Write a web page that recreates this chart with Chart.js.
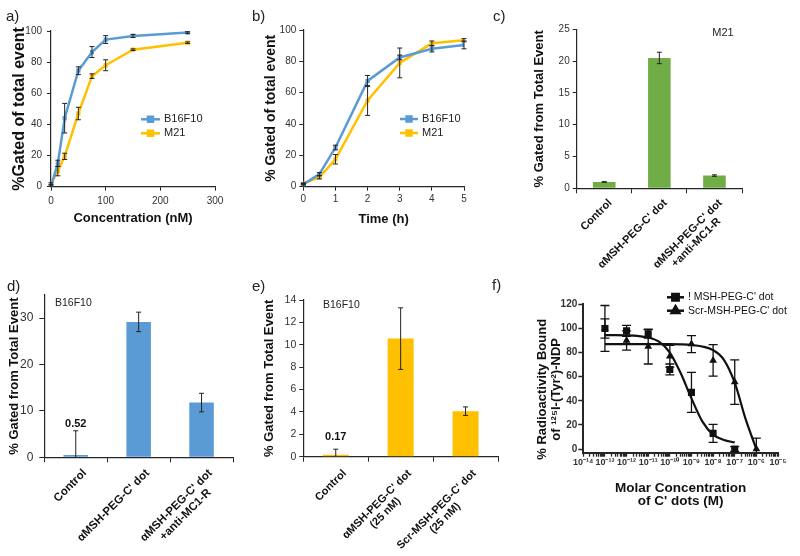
<!DOCTYPE html>
<html><head><meta charset="utf-8">
<script src="https://cdn.jsdelivr.net/npm/chart.js@4.4.1/dist/chart.umd.min.js"></script>
<style>
html,body{margin:0;padding:0;background:#fff}
#wrap{position:relative;width:800px;height:556px;overflow:hidden;font-family:'Liberation Sans',Arial,sans-serif}
canvas{position:absolute}
.pl{position:absolute;font-size:15px;line-height:17px;color:#222}
</style></head><body><div id="wrap">
<canvas id="cA" width="255" height="240" style="left:0;top:0"></canvas>
<canvas id="cB" width="245" height="240" style="left:255px;top:0"></canvas>
<canvas id="cC" width="285" height="270" style="left:515px;top:0"></canvas>
<canvas id="cD" width="255" height="286" style="left:0;top:270px"></canvas>
<canvas id="cE" width="245" height="286" style="left:255px;top:270px"></canvas>
<canvas id="cF" width="300" height="286" style="left:500px;top:270px"></canvas>
<div class="pl" style="left:6px;top:7px">a)</div>
<div class="pl" style="left:252px;top:7px">b)</div>
<div class="pl" style="left:493px;top:7px">c)</div>
<div class="pl" style="left:7px;top:277px">d)</div>
<div class="pl" style="left:252px;top:277px">e)</div>
<div class="pl" style="left:492px;top:276px">f)</div>
</div>
<script>
// ================= DATA =================
const seriesNames = ['B16F10', 'M21'];
// panel a : uptake vs concentration
const concA   = [0, 12.5, 25, 50, 75, 100, 150, 250];
const b16A    = [0.5, 15, 44, 74.5, 86.5, 94.5, 96.8, 99];
const b16AErr = [0.5, 2, 9.5, 2.5, 3.5, 2.5, 1, 0.5];
const m21A    = [2, 10, 19.5, 47, 71, 78, 88, 92.5];
const m21AErr = [0.5, 3, 2, 4, 1.5, 3.5, 0.5, 0.5];
const xTicksA = [0, 100, 200, 300];
const yTicksA = [0, 20, 40, 60, 80, 100];
// panel b : uptake vs time
const timeB   = [0, 0.5, 1, 2, 3, 4, 5];
const b16B    = [1.5, 8, 25, 67.5, 82.5, 88, 90.5];
const b16BErr = [0.5, 1, 1.5, 3.5, 1.5, 2, 2.5];
const m21B    = [2, 6, 17.5, 55, 79, 91.5, 93.5];
const m21BErr = [0.5, 1, 3, 9.5, 9.5, 1.5, 1];
const xTicksB = [0, 1, 2, 3, 4, 5];
const yTicksB = [0, 20, 40, 60, 80, 100];
// panel c : M21
const catC    = ['Control', "\u03b1MSH-PEG-C' dot", ["\u03b1MSH-PEG-C' dot", '+anti-MC1-R']];
const valC    = [1.0, 20.5, 2.0];
const errC    = [0.05, 0.9, 0.12];
const yTicksC = [0, 5, 10, 15, 20, 25];
// panel d : B16F10
const catD    = ['Control', "\u03b1MSH-PEG-C' dot", ["\u03b1MSH-PEG-C' dot", '+anti-MC1-R']];
const valD    = [0.52, 29.2, 11.8];
const errD    = [5.2, 2.1, 2.0];
const yTicksD = [0, 10, 20, 30];
// panel e : B16F10
const catE    = ['Control', ["\u03b1MSH-PEG-C' dot", '(25 nM)'], ["Scr-MSH-PEG-C' dot", '(25 nM)']];
const valE    = [0.17, 10.55, 4.07];
const errE    = [0.5, 2.75, 0.38];
const yTicksE = [0, 2, 4, 6, 8, 10, 12, 14];
// panel f : competitive binding (x = log10 molar concentration)
const namesF   = ["! MSH-PEG-C' dot", "Scr-MSH-PEG-C' dot"];
const logConcF = [-13, -12, -11, -10, -9, -8, -7, -6];
const sqF      = [100, 98, 95.5, 66, 47, 13, 0, null];
const sqErrF   = [19, 4.5, 3.5, 4.5, 16.5, 7.5, 2, null];
const triF     = [100, 90, 85, 77, 87, 73.5, 55.5, 0];
const triErrF  = [8, 8, 14.5, 9, 7, 13, 18.5, 9];
const fitXF    = [-13, -12.5, -12, -11.5, -11, -10.5, -10, -9.5, -9, -8.5, -8, -7.5, -7, -6.5, -6];
const sqFitF   = [94.5, 94.5, 94.3, 93.8, 92.5, 89, 80, 63, 42, 23, 12, 7.5, 5.5, null, null];
const triFitF  = [87, 87, 87, 87, 87, 87, 87, 86.8, 86.3, 85, 82, 74, 55, 25, 0];
const yTicksF  = [0, 20, 40, 60, 80, 100, 120];
const xDecadesF = [-14, -13, -12, -11, -10, -9, -8, -7, -6, -5];

// ================= STYLE / HELPERS =================
const FF = "'Liberation Sans', Arial, sans-serif";
Chart.defaults.font.family = FF;
Chart.defaults.color = '#333';
const C_BLUE = '#5B9BD5', C_ORANGE = '#FFC000', C_GREEN = '#70AD47';
const AX = '#262626', TXT = '#333';
const xy = (xs, ys) => xs.map((x, i) => ({x: x, y: ys[i]}));

const errPlugin = {
  id: 'errbars',
  afterDatasetsDraw(chart, args, o) {
    const ctx = chart.ctx, ca = chart.chartArea;
    chart.data.datasets.forEach((ds, i) => {
      if (!ds.errors) return;
      const meta = chart.getDatasetMeta(i);
      const ys = chart.scales[meta.yAxisID];
      ctx.save();
      ctx.beginPath(); ctx.rect(ca.left - 20, ca.top - 30, ca.right - ca.left + 40, ca.bottom - ca.top + 30); ctx.clip();
      ctx.strokeStyle = o.color || '#000'; ctx.lineWidth = o.width || 1;
      meta.data.forEach((el, j) => {
        const v = ds.data[j];
        const val = (v !== null && typeof v === 'object') ? v.y : v;
        const e = ds.errors[j];
        if (val == null || e == null) return;
        const x = el.x, cw = o.cap || 3;
        const yt = ys.getPixelForValue(val + e), yb = ys.getPixelForValue(val - e);
        ctx.beginPath();
        ctx.moveTo(x, yt); ctx.lineTo(x, yb);
        ctx.moveTo(x - cw, yt); ctx.lineTo(x + cw, yt);
        ctx.moveTo(x - cw, yb); ctx.lineTo(x + cw, yb);
        ctx.stroke();
      });
      ctx.restore();
    });
  }
};
const legPlugin = {
  id: 'legx',
  afterDraw(chart, args, o) {
    if (!o || !o.items) return;
    const ctx = chart.ctx;
    o.items.forEach((di, k) => {
      const ds = chart.data.datasets[di];
      const y = o.y0 + k * o.dy;
      ctx.save();
      ctx.strokeStyle = o.lineColor || ds.borderColor; ctx.lineWidth = o.lw;
      ctx.beginPath(); ctx.moveTo(o.x0, y); ctx.lineTo(o.x1, y); ctx.stroke();
      ctx.fillStyle = ds.pointBackgroundColor || ds.backgroundColor;
      ctx.strokeStyle = ds.pointBackgroundColor || ds.backgroundColor;
      Chart.helpers.drawPoint(ctx, {pointStyle: ds.pointStyle, radius: o.pr, borderWidth: 1, rotation: 0}, (o.x0 + o.x1) / 2, y);
      ctx.fillStyle = o.color || '#222'; ctx.font = o.font;
      ctx.textAlign = 'left'; ctx.textBaseline = 'middle';
      ctx.fillText(ds.label, o.tx, y);
      ctx.restore();
    });
  }
};
const notesPlugin = {
  id: 'notes',
  afterDraw(chart, args, o) {
    if (!o || !o.items) return;
    const ctx = chart.ctx;
    o.items.forEach(it => {
      ctx.save();
      ctx.font = it.font; ctx.fillStyle = it.color || '#222';
      ctx.textAlign = it.align || 'left'; ctx.textBaseline = 'middle';
      ctx.fillText(it.text, it.x, it.y);
      ctx.restore();
    });
  }
};
const valLabelPlugin = {
  id: 'vallab',
  afterDraw(chart, args, o) {
    if (!o || o.index == null) return;
    const ctx = chart.ctx, ds = chart.data.datasets[0];
    const meta = chart.getDatasetMeta(0), ys = chart.scales.y;
    const v = ds.data[o.index], e = ds.errors ? ds.errors[o.index] : 0;
    const x = meta.data[o.index].x, y = ys.getPixelForValue(v + e) + o.dy;
    ctx.save(); ctx.font = o.font; ctx.fillStyle = '#111';
    ctx.textAlign = 'center'; ctx.textBaseline = 'middle';
    ctx.fillText(String(v), x, y); ctx.restore();
  }
};
const catLabPlugin = {
  id: 'catlab',
  afterDraw(chart, args, o) {
    if (!o || !o.font) return;
    const ctx = chart.ctx, xs = chart.scales.x;
    chart.data.labels.forEach((lab, i) => {
      const lines = Array.isArray(lab) ? lab : [lab];
      const x = xs.getPixelForValue(i), y = xs.top;
      ctx.save();
      ctx.font = o.font; ctx.fillStyle = '#111';
      ctx.translate(x + o.dx, y + o.dy); ctx.rotate(-Math.PI / 4);
      const W = Math.max(...lines.map(l => ctx.measureText(l).width));
      ctx.textAlign = 'center'; ctx.textBaseline = 'middle';
      lines.forEach((l, k) => ctx.fillText(l, -W / 2, k * o.lh));
      ctx.restore();
    });
  }
};
const PLUGS = [errPlugin, legPlugin, notesPlugin, valLabelPlugin, catLabPlugin];

function yAx(o) {
  return {
    type: 'linear', position: 'left', min: o.min, max: o.max,
    afterBuildTicks: s => { s.ticks = o.ticks.map(v => ({value: v})); },
    afterFit: s => { s.width = o.width; },
    ticks: {font: {size: o.ts, weight: o.tw || 'normal'}, padding: o.tp, color: TXT, autoSkip: false},
    grid: {drawOnChartArea: false, drawTicks: true, tickLength: o.tl, tickColor: AX, tickWidth: o.tkw || 1, color: AX},
    border: {color: AX, width: o.bw || 1.2},
    title: {display: true, text: o.title, color: '#111', font: {size: o.fs, weight: 'bold', lineHeight: o.lh || 1.2}, padding: {top: o.pt, bottom: 0}}
  };
}
function xLin(o) {
  const t = {font: {size: o.ts, weight: o.tw || 'normal'}, padding: o.tp, color: TXT, autoSkip: false, maxRotation: 0, minRotation: 0};
  if (o.cb) t.callback = o.cb;
  return {
    type: 'linear', position: 'bottom', min: o.min, max: o.max,
    afterBuildTicks: s => { s.ticks = o.ticks.map(v => ({value: v})); },
    afterFit: s => { s.height = o.height; },
    ticks: t,
    grid: {drawOnChartArea: false, drawTicks: true, tickLength: o.tl, tickColor: AX, tickWidth: o.tkw || 1, color: AX},
    border: {color: AX, width: o.bw || 1.2},
    title: {display: true, text: o.title, color: '#111', font: {size: o.fs, weight: 'bold', lineHeight: o.lh || 1.2}, padding: {top: 0, bottom: o.pb}}
  };
}
function xCat(height) {
  return {
    type: 'category', position: 'bottom', offset: true,
    afterFit: s => { s.height = height; },
    ticks: {display: false},
    grid: {offset: true, drawOnChartArea: false, drawTicks: true, tickLength: 5, tickColor: AX, color: AX},
    border: {color: AX, width: 1.2}
  };
}
const base = (pad, plugins, scales) => ({
  responsive: false, animation: false, devicePixelRatio: 1,
  layout: {padding: pad},
  plugins: Object.assign({legend: {display: false}, tooltip: {enabled: false}}, plugins),
  scales: scales
});
function lineDs(label, xs, ys, errs, color) {
  return {label: label, data: xy(xs, ys), errors: errs, borderColor: color, backgroundColor: color,
    pointBackgroundColor: color, borderWidth: 2.5, pointStyle: 'rect', pointRadius: 3, pointBorderWidth: 0, tension: 0};
}

// ---------- a ----------
new Chart(document.getElementById('cA'), {
  type: 'line',
  data: {datasets: [lineDs(seriesNames[0], concA, b16A, b16AErr, C_BLUE), lineDs(seriesNames[1], concA, m21A, m21AErr, C_ORANGE)]},
  options: base({left: 0, top: 31, right: 40, bottom: 8.3}, {
      errbars: {cap: 2.5, width: 1, color: '#222'},
      legx: {items: [0, 1], x0: 141, x1: 160, tx: 164, y0: 119.3, dy: 14, lw: 2.5, pr: 3.5, font: '11px ' + FF}
    }, {
      x: xLin({min: 0, max: 300, ticks: xTicksA, height: 45, ts: 10, tp: 5, tl: 4, title: 'Concentration (nM)', fs: 13, pb: 5}),
      y: yAx({min: 0, max: 100, ticks: yTicksA, width: 51, ts: 10, tp: 5, tl: 4, title: '%Gated of total event', fs: 16, pt: 9.5})
    }),
  plugins: PLUGS
});
// ---------- b ----------
new Chart(document.getElementById('cB'), {
  type: 'line',
  data: {datasets: [lineDs(seriesNames[0], timeB, b16B, b16BErr, C_BLUE), lineDs(seriesNames[1], timeB, m21B, m21BErr, C_ORANGE)]},
  options: base({left: 0, top: 30, right: 36, bottom: 8.3}, {
      errbars: {cap: 2.5, width: 1, color: '#222'},
      legx: {items: [0, 1], x0: 145, x1: 163, tx: 167, y0: 119, dy: 14, lw: 2.5, pr: 3.5, font: '11px ' + FF}
    }, {
      x: xLin({min: 0, max: 5, ticks: xTicksB, height: 45, ts: 10, tp: 3, tl: 4, title: 'Time (h)', fs: 13, pb: 4}),
      y: yAx({min: 0, max: 100, ticks: yTicksB, width: 48.3, ts: 10, tp: 3, tl: 4, title: '% Gated of total event', fs: 14, pt: 8})
    }),
  plugins: PLUGS
});
// ---------- c ----------
new Chart(document.getElementById('cC'), {
  type: 'bar',
  data: {labels: catC, datasets: [{data: valC, errors: errC, backgroundColor: C_GREEN, barPercentage: 0.41, categoryPercentage: 1}]},
  options: base({left: 0, top: 29.3, right: 58, bottom: 0}, {
      errbars: {cap: 2.5, width: 1, color: '#222'},
      catlab: {dx: 6, dy: 13, lh: 12, font: 'bold 11px ' + FF},
      notes: {items: [{text: 'M21', x: 208, y: 33, align: 'center', font: '11px ' + FF}]}
    }, {
      x: xCat(81.7),
      y: yAx({min: 0, max: 25, ticks: yTicksC, width: 61.7, ts: 10, tp: 3, tl: 4, title: '% Gated from Total Event', fs: 13, pt: 17})
    }),
  plugins: PLUGS
});
// ---------- d ----------
new Chart(document.getElementById('cD'), {
  type: 'bar',
  data: {labels: catD, datasets: [{data: valD, errors: errD, backgroundColor: C_BLUE, barPercentage: 0.39, categoryPercentage: 1}]},
  options: base({left: 0, top: 25, right: 22, bottom: 0}, {
      errbars: {cap: 2.5, width: 1, color: '#222'},
      catlab: {dx: 9, dy: 14, lh: 13, font: 'bold 11.5px ' + FF},
      notes: {items: [{text: 'B16F10', x: 55, y: 33, font: '10.5px ' + FF}]},
      vallab: {index: 0, dy: -7, font: 'bold 11px ' + FF}
    }, {
      x: xCat(98.7),
      y: yAx({min: 0, max: 35, ticks: yTicksD, width: 44.3, ts: 12, tp: 6, tl: 5, title: '% Gated from Total Event', fs: 13, pt: 7})
    }),
  plugins: PLUGS
});
// ---------- e ----------
new Chart(document.getElementById('cE'), {
  type: 'bar',
  data: {labels: catE, datasets: [{data: valE, errors: errE, backgroundColor: C_ORANGE, barPercentage: 0.4, categoryPercentage: 1}]},
  options: base({left: 0, top: 30, right: 2, bottom: 0}, {
      errbars: {cap: 2.5, width: 1, color: '#222'},
      catlab: {dx: 9, dy: 15, lh: 12, font: 'bold 11px ' + FF},
      notes: {items: [{text: 'B16F10', x: 68, y: 35, font: '10.5px ' + FF}]},
      vallab: {index: 0, dy: -12, font: 'bold 11px ' + FF}
    }, {
      x: xCat(99.3),
      y: yAx({min: 0, max: 14, ticks: yTicksE, width: 48.3, ts: 10.5, tp: 3, tl: 4, title: '% Gated from Total Event', fs: 13, pt: 7})
    }),
  plugins: PLUGS
});
// ---------- f ----------
const SUP = {'0':'\u2070','1':'\u00b9','2':'\u00b2','3':'\u00b3','4':'\u2074','5':'\u2075','6':'\u2076','7':'\u2077','8':'\u2078','9':'\u2079','-':'\u207b'};
const supStr = v => String(v).split('').map(c => SUP[c]).join('');
const xTickValsF = [];
xDecadesF.forEach((d, i) => {
  xTickValsF.push(d);
  if (i < xDecadesF.length - 1) for (let k = 2; k <= 9; k++) xTickValsF.push(d + Math.log10(k));
});
new Chart(document.getElementById('cF'), {
  type: 'line',
  data: {datasets: [
    {label: namesF[0], data: xy(logConcF, sqF), errors: sqErrF, showLine: false, pointStyle: 'rect', pointRadius: 5,
     backgroundColor: '#111', pointBackgroundColor: '#111', borderColor: '#111', pointBorderWidth: 0},
    {label: namesF[1], data: xy(logConcF, triF), errors: triErrF, showLine: false, pointStyle: 'triangle', pointRadius: 4.5,
     backgroundColor: '#111', pointBackgroundColor: '#111', borderColor: '#111', pointBorderWidth: 0},
    {label: 'fit1', data: xy(fitXF, sqFitF), borderColor: '#111', borderWidth: 2.2, pointRadius: 0, cubicInterpolationMode: 'monotone', spanGaps: false},
    {label: 'fit2', data: xy(fitXF, triFitF), borderColor: '#111', borderWidth: 2.2, pointRadius: 0, cubicInterpolationMode: 'monotone', spanGaps: false}
  ]},
  options: base({left: 0, top: 34.3, right: 22, bottom: 0}, {
      errbars: {cap: 4.5, width: 1.3, color: '#111'},
      legx: {items: [0, 1], x0: 167, x1: 184, tx: 188, y0: 27.3, dy: 13.4, lw: 2.5, pr: 4.5, lineColor: '#111', font: '10.5px ' + FF, color: '#111'}
    }, {
      x: xLin({min: -14, max: -5, ticks: xTickValsF, height: 103.3, ts: 9, tw: 'bold', tp: 0.6, tl: 4, bw: 2, tkw: 1.3,
               cb: v => Number.isInteger(v) ? '10' + supStr(v) : '',
               title: ['Molar Concentration', "of C' dots (M)"], fs: 13.5, lh: 1.0, pb: 47.6}),
      y: yAx({min: -3, max: 120, ticks: yTicksF, width: 83.3, ts: 10, tw: 'bold', tp: 1, tl: 5, bw: 2, tkw: 1.5,
              title: ['% Radioactivity Bound      ', 'of \u00b9\u00b2\u2075I-(Tyr\u00b2)-NDP      '], fs: 13, lh: 1.05, pt: 36})
    }),
  plugins: PLUGS
});
</script></body></html>
